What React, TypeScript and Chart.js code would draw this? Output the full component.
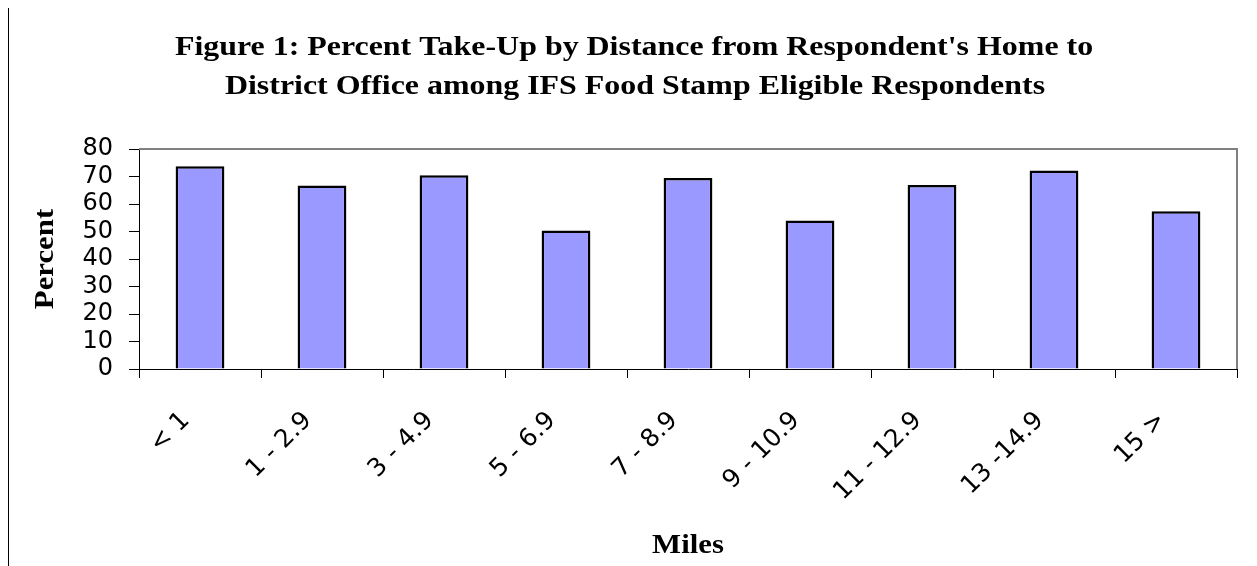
import React, { useEffect, useRef } from "react";
import { Chart, registerables } from "chart.js";

Chart.register(...registerables);

const TITLE_LINES = [
  "Figure 1: Percent Take-Up by Distance from Respondent's Home to",
  "District Office among IFS Food Stamp Eligible Respondents",
];
const CATEGORIES = ["< 1", "1 - 2.9", "3 - 4.9", "5 - 6.9", "7 - 8.9", "9 - 10.9", "11 - 12.9", "13 -14.9", "15 >"];
const PERCENT_VALUES = [73.7, 66.7, 70.5, 50.4, 69.5, 54.0, 66.9, 72.2, 57.4];
const Y_TICKS = [0, 10, 20, 30, 40, 50, 60, 70, 80];
const X_TITLE = "Miles";
const Y_TITLE = "Percent";

const SERIF = '"Times New Roman", "Liberation Serif", serif';
const SANS = '"DejaVu Sans", Arial, sans-serif';
const TEXT_STRETCH = 1.14;

const framePlugin = {
  id: "frame",
  beforeDatasetsDraw(chart: any) {
    const { ctx, chartArea } = chart;
    ctx.save();
    ctx.strokeStyle = "#808080";
    ctx.lineWidth = 2;
    ctx.beginPath();
    ctx.moveTo(chartArea.left, chartArea.top);
    ctx.lineTo(chartArea.right, chartArea.top);
    ctx.lineTo(chartArea.right, chartArea.bottom);
    ctx.stroke();
    ctx.restore();
  },
};

const textPlugin = {
  id: "wideTitles",
  afterDraw(chart: any) {
    const { ctx, chartArea } = chart;
    const drawWide = (text: string, x: number, y: number, rot: number) => {
      ctx.save();
      ctx.translate(x, y);
      ctx.rotate(rot);
      ctx.scale(TEXT_STRETCH, 1);
      ctx.fillText(text, 0, 0);
      ctx.restore();
    };
    ctx.save();
    ctx.fillStyle = "#000";
    ctx.textAlign = "center";
    ctx.textBaseline = "alphabetic";
    ctx.font = `bold 28px ${SERIF}`;
    drawWide(TITLE_LINES[0], 625, 47, 0);
    drawWide(TITLE_LINES[1], 626, 86, 0);
    ctx.font = `bold 27px ${SERIF}`;
    drawWide(X_TITLE, (chartArea.left + chartArea.right) / 2, 545, 0);
    drawWide(Y_TITLE, 44, (chartArea.top + chartArea.bottom) / 2, -Math.PI / 2);
    ctx.restore();
  },
};

export default function App() {
  const ref = useRef<HTMLCanvasElement | null>(null);
  useEffect(() => {
    document.documentElement.style.overflow = "hidden";
    const canvas = ref.current;
    if (!canvas) return;
    const chart = new Chart(canvas, {
      type: "bar",
      data: {
        labels: CATEGORIES,
        datasets: [
          {
            data: PERCENT_VALUES,
            backgroundColor: "#9999FF",
            borderColor: "#000000",
            borderWidth: 2.5,
            categoryPercentage: 1,
            barPercentage: 0.4,
          },
        ],
      },
      options: {
        responsive: false,
        animation: false,
        layout: { padding: { top: 141, left: 0, right: 20, bottom: 0 } },
        plugins: {
          legend: { display: false },
          tooltip: { enabled: false },
          title: { display: false },
        },
        scales: {
          x: {
            grid: { drawOnChartArea: false, tickLength: 9, tickColor: "#000", offset: true },
            border: { color: "#000", width: 1 },
            ticks: {
              color: "#000",
              font: { family: SANS, size: 25 },
              maxRotation: 45,
              minRotation: 45,
              autoSkip: false,
              padding: 28,
              labelOffset: -14,
            },
            afterFit(scale: any) {
              scale.height = 197;
            },
          },
          y: {
            min: 0,
            max: 80,
            afterBuildTicks(scale: any) {
              scale.ticks = Y_TICKS.map((v) => ({ value: v }));
            },
            grid: { drawOnChartArea: false, tickLength: 10, tickColor: "#000" },
            border: { color: "#000", width: 1 },
            ticks: {
              color: "#000",
              font: { family: SANS, size: 24 },
              padding: 16,
              autoSkip: false,
            },
            afterFit(scale: any) {
              scale.width = 130;
            },
          },
        },
      },
      plugins: [framePlugin, textPlugin],
    });
    return () => chart.destroy();
  }, []);

  return (
    <div
      style={{
        marginTop: -1,
        width: 1249,
        height: 559,
        borderLeft: "1px solid #000",
        borderTop: "1px solid #000",
        boxSizing: "border-box",
        background: "#fff",
      }}
    >
      <canvas ref={ref} width={1248} height={558} style={{ display: "block" }} />
    </div>
  );
}
